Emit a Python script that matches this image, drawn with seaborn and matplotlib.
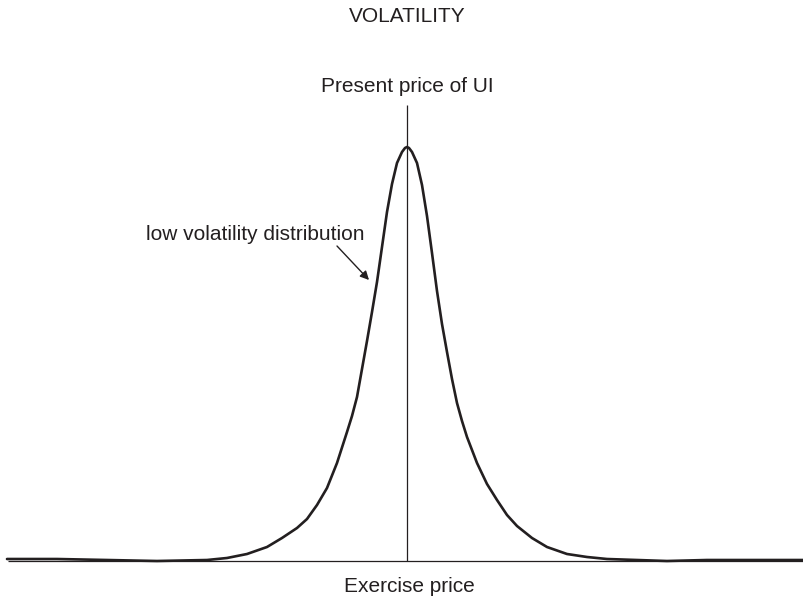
import matplotlib
matplotlib.use("Agg")
import matplotlib.pyplot as plt
import seaborn as sns

# price offset from the exercise price, and the (relative) density height
price_offset = [-400, -350, -300, -250, -200, -180, -160, -140, -125, -110, -100, -90,
                -80, -70, -60, -55, -50, -45, -40, -35, -30, -25, -20, -15, -10, -5, -2,
                0, 2, 5, 10, 15, 20, 25, 30, 35, 40, 45, 50, 55, 60, 70, 80, 90, 100,
                110, 125, 140, 160, 180, 200, 230, 260, 300, 350, 397]
density = [2, 2, 1, 0, 1, 3, 7, 14, 23, 33, 42, 56,
           73, 98, 129, 145, 164, 192, 220, 249, 279, 314, 349, 377, 398, 409, 413,
           414, 413, 409, 398, 376, 345, 308, 270, 237, 209, 182, 158, 140, 124, 98, 77, 61, 46,
           35, 23, 14, 7, 4, 2, 1, 0, 1, 1, 1]

title = "VOLATILITY"
top_label = "Present price of UI"
curve_label = "low volatility distribution"
bottom_label = "Exercise price"

exercise_price = 0
present_line_top = 456

sns.set_style("white")
plt.rcParams['font.family'] = ['Liberation Sans', 'DejaVu Sans']
ink = "#231f20"

fig = plt.figure(figsize=(8.04, 6.03), dpi=100)
ax = fig.add_axes([0, 0, 1, 1])

sns.lineplot(x=price_offset, y=density, ax=ax, color=ink, linewidth=1.9,
             estimator=None, sort=True, solid_joinstyle="round", solid_capstyle="round")

ax.hlines(0, -399, 397, color=ink, linewidth=0.9)
ax.vlines(exercise_price, 0, present_line_top, color=ink, linewidth=0.9)

ax.text(exercise_price, 545, title, ha="center", va="center", fontsize=15, color=ink)
ax.text(exercise_price, 475, top_label, ha="center", va="center", fontsize=15, color=ink)
ax.text(-152, 327, curve_label, ha="center", va="center", fontsize=15, color=ink)
ax.text(exercise_price + 2, -25, bottom_label, ha="center", va="center", fontsize=15, color=ink)
ax.annotate("", xy=(-38, 281), xytext=(-70, 315),
            arrowprops=dict(arrowstyle="-|>", color=ink, lw=1.0, mutation_scale=13,
                            shrinkA=0, shrinkB=0))

ax.set_xlim(-407, 397)
ax.set_ylim(-42, 561)
ax.axis("off")

fig.savefig("out.png", dpi=100)
